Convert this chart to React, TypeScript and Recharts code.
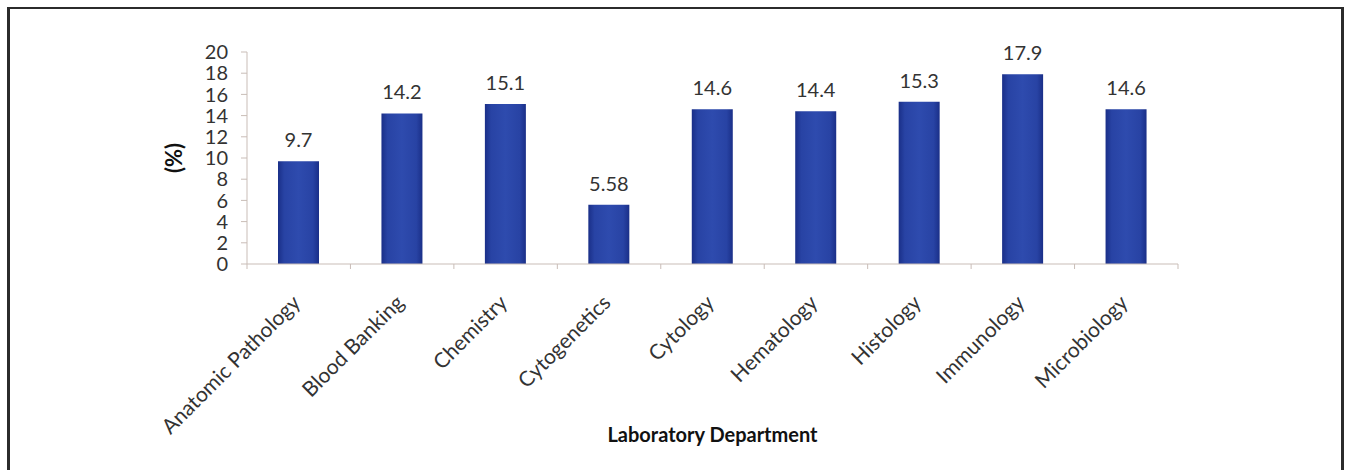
import { Bar, BarChart, LabelList, XAxis, YAxis } from 'recharts'

const departments = [
  'Anatomic Pathology',
  'Blood Banking',
  'Chemistry',
  'Cytogenetics',
  'Cytology',
  'Hematology',
  'Histology',
  'Immunology',
  'Microbiology',
]
const percents = [9.7, 14.2, 15.1, 5.58, 14.6, 14.4, 15.3, 17.9, 14.6]
const yTicks = [0, 2, 4, 6, 8, 10, 12, 14, 16, 18, 20]

const data = departments.map((name, i) => ({ name, value: percents[i] }))

const WIDTH = 1346
const HEIGHT = 470
const MARGIN = { top: 52, right: 168, left: 167, bottom: 46 }
const Y_AXIS_WIDTH = 80
const X_AXIS_HEIGHT = 160
const PLOT_WIDTH = WIDTH - MARGIN.left - Y_AXIS_WIDTH - MARGIN.right
const BAND = PLOT_WIDTH / departments.length

const FONT = 'Lato, "Open Sans", sans-serif'
const TEXT = '#333'
const AXIS = '#c9bdb7'

// category label rotated like Excel's -45deg labels, plus the small
// tick marks that sit between categories rather than under the bars
function CategoryTick(props: any) {
  const { x, y, payload, index } = props
  const left = x - BAND / 2
  const right = x + BAND / 2
  const tx = x + 3
  const ty = y + 40
  return (
    <g>
      <line x1={left} y1={y} x2={left} y2={y + 5} stroke={AXIS} />
      {index === departments.length - 1 && (
        <line x1={right} y1={y} x2={right} y2={y + 5} stroke={AXIS} />
      )}
      <text
        x={tx}
        y={ty}
        textAnchor="end"
        transform={`rotate(-45, ${tx}, ${ty})`}
        fill={TEXT}
        fontSize={21}
        fontFamily={FONT}
      >
        {payload.value}
      </text>
    </g>
  )
}

export default function App() {
  return (
    <div style={{ position: 'absolute', left: 0, top: 0, width: WIDTH, height: HEIGHT, background: '#fff' }}>
      <div
        style={{
          position: 'absolute',
          left: 7,
          top: 7,
          width: 1337,
          height: HEIGHT - 7,
          boxSizing: 'border-box',
          borderTop: '2px solid #2b2b2b',
          borderLeft: '3px solid #2b2b2b',
          borderRight: '3px solid #2b2b2b',
        }}
      />
      <div style={{ position: 'absolute', left: 0, top: 0 }}>
        <BarChart width={WIDTH} height={HEIGHT} data={data} margin={MARGIN}>
          <defs>
            <linearGradient id="barFill" x1="0" y1="0" x2="1" y2="0">
              <stop offset="0%" stopColor="#1a2f88" />
              <stop offset="15%" stopColor="#2843a4" />
              <stop offset="50%" stopColor="#2e4bae" />
              <stop offset="85%" stopColor="#2843a4" />
              <stop offset="100%" stopColor="#1a2f88" />
            </linearGradient>
          </defs>
          <XAxis
            dataKey="name"
            interval={0}
            height={X_AXIS_HEIGHT}
            tickSize={0}
            tickMargin={0}
            tickLine={false}
            axisLine={{ stroke: AXIS }}
            tick={<CategoryTick />}
            label={{
              content: ({ viewBox }: any) => (
                <text
                  x={viewBox.x + viewBox.width / 2}
                  y={viewBox.y + 178}
                  textAnchor="middle"
                  fontSize={20}
                  fontWeight="bold"
                  fontFamily={FONT}
                  fill="#111"
                >
                  Laboratory Department
                </text>
              ),
            }}
          />
          <YAxis
            width={Y_AXIS_WIDTH}
            domain={[0, 20]}
            ticks={yTicks}
            interval={0}
            tickSize={6}
            tickMargin={13}
            tickLine={{ stroke: AXIS }}
            axisLine={{ stroke: AXIS }}
            tick={{ fill: TEXT, fontSize: 20, fontFamily: FONT }}
            label={{
              content: ({ viewBox }: any) => (
                <text
                  x={173}
                  y={viewBox.y + viewBox.height / 2}
                  textAnchor="middle"
                  dominantBaseline="central"
                  transform={`rotate(-90, 173, ${viewBox.y + viewBox.height / 2})`}
                  fontSize={22}
                  fontWeight="bold"
                  fontFamily={FONT}
                  fill="#111"
                >
                  (%)
                </text>
              ),
            }}
          />
          <Bar dataKey="value" fill="url(#barFill)" barSize={41} isAnimationActive={false}>
            <LabelList
              dataKey="value"
              position="top"
              offset={14}
              fill={TEXT}
              fontSize={20}
              fontFamily={FONT}
            />
          </Bar>
        </BarChart>
      </div>
    </div>
  )
}
